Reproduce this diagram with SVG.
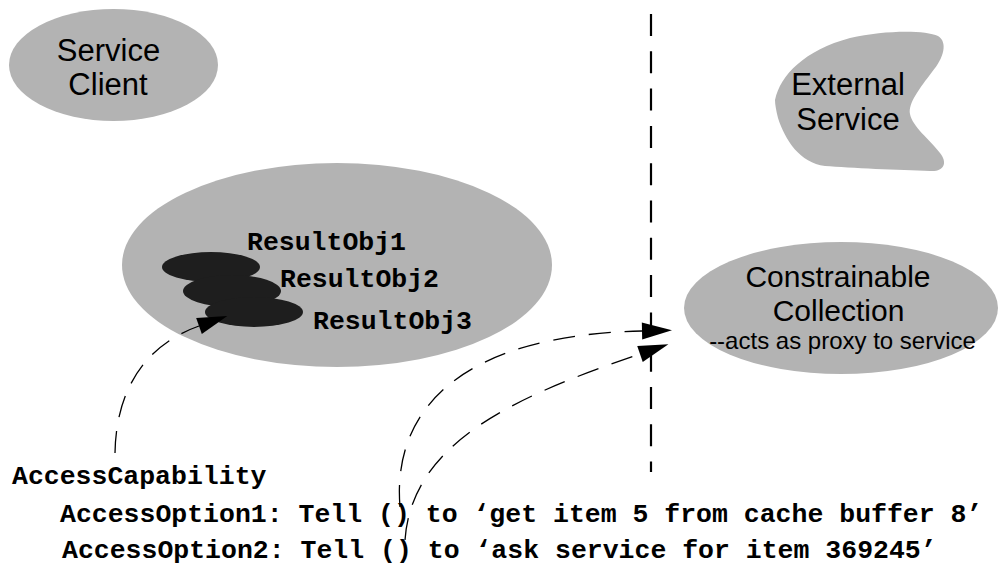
<svg xmlns="http://www.w3.org/2000/svg" width="1000" height="572" viewBox="0 0 1000 572">
  <style>
    .node { fill: #b3b3b3; }
    .obj { fill: #1e1e1e; }
    .lbl { font-family: "Liberation Sans", Arial, sans-serif; font-size: 31px; fill: #000; text-anchor: middle; }
    .mid { font-size: 30px; }
    .small { font-size: 24px; }
    .mono { font-family: "Liberation Mono", "Courier New", monospace; font-weight: bold; font-size: 26.5px; fill: #000; }
    .conn { fill: none; stroke: #000; stroke-width: 1.3; stroke-dasharray: 22 14; }
    .divider { fill: none; stroke: #000; stroke-width: 2.2; stroke-dasharray: 22 15.3; }
  </style>
  <defs>
    <marker id="arrow" markerUnits="userSpaceOnUse" markerWidth="32" markerHeight="18" refX="0" refY="8.5" orient="auto" overflow="visible">
      <path d="M0,0 L30,8.5 L0,17 Z" fill="#000"/>
    </marker>
  </defs>

  <g id="service-client">
    <ellipse class="node" cx="113.5" cy="65" rx="104.5" ry="56"/>
    <text class="lbl" x="108.5" y="61">Service</text>
    <text class="lbl" x="108" y="95">Client</text>
  </g>

  <g id="external-service">
    <path class="node" d="M775,100 C780,75 805,50 850,38 C885,30 925,30 938,36 C948,42 944,58 932,72 C920,88 908,103 910,114 C912,126 930,140 940,153 C948,163 944,172 930,171 C900,170 850,168 825,166 C800,163 785,140 778,118 C776,110 775,104 775,100 Z"/>
    <text class="lbl" x="848" y="95">External</text>
    <text class="lbl" x="848" y="130">Service</text>
  </g>

  <g id="result-container">
    <ellipse class="node" cx="337" cy="265" rx="215" ry="102"/>
  </g>

  <g id="result-objects">
    <ellipse class="obj" cx="211" cy="267" rx="49" ry="15"/>
    <ellipse class="obj" cx="232" cy="291" rx="49" ry="16"/>
    <ellipse class="obj" cx="254" cy="312" rx="49" ry="15"/>
    <text class="mono" x="247" y="250">ResultObj1</text>
    <text class="mono" x="280" y="287">ResultObj2</text>
    <text class="mono" x="313" y="329">ResultObj3</text>
  </g>

  <g id="constrainable-collection">
    <ellipse class="node" cx="841" cy="308" rx="157" ry="66"/>
    <text class="lbl mid" x="838" y="286.5">Constrainable</text>
    <text class="lbl mid" x="838.5" y="320.5">Collection</text>
    <text class="lbl small" x="842.5" y="348.5">--acts as proxy to service</text>
  </g>

  <g id="access-capability">
    <text class="mono" x="12" y="484">AccessCapability</text>
    <text class="mono" x="60" y="522">AccessOption1: Tell () to ‘get item 5 from cache buffer 8’</text>
    <text class="mono" x="62" y="558">AccessOption2: Tell () to ‘ask service for item 369245’</text>
  </g>

  <g id="connectors">
    <line class="divider" x1="651" y1="14" x2="651" y2="472"/>
    <path class="conn" d="M115,453 C116,390 145,345 199,326" marker-end="url(#arrow)"/>
    <path class="conn" d="M400,507 C392,410 460,335 642,331" marker-end="url(#arrow)"/>
    <path class="conn" d="M405,540 C412,440 520,395 640,354" marker-end="url(#arrow)"/>
  </g>
</svg>
